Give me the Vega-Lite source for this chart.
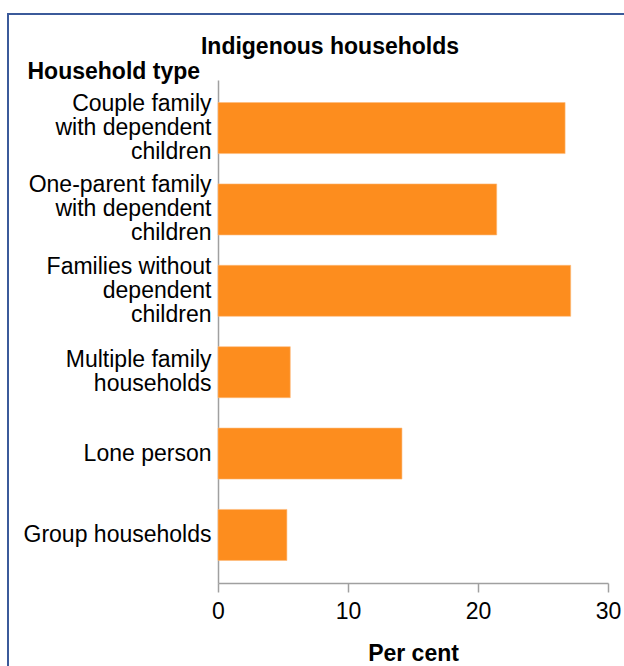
{
  "$schema": "https://vega.github.io/schema/vega-lite/v6.json",
  "autosize": "none",
  "padding": {"left": 8, "top": 14, "right": 0, "bottom": 0},
  "width": 644,
  "height": 680,
  "background": "white",
  "config": {
    "view": {"stroke": "#3B5A9A", "strokeWidth": 2},
    "font": "Liberation Sans"
  },
  "title": {
    "text": "Indigenous households",
    "anchor": "middle",
    "frame": "group",
    "baseline": "alphabetic",
    "offset": 0,
    "dy": 63,
    "font": "Liberation Sans",
    "fontSize": 23,
    "fontWeight": "bold",
    "color": "#000000"
  },
  "data": {
    "values": [
      {"type": "Couple family|with dependent|children", "value": 26.7},
      {"type": "One-parent family|with dependent|children", "value": 21.44},
      {"type": "Families without|dependent|children", "value": 27.13},
      {"type": "Multiple family|households", "value": 5.56},
      {"type": "Lone person", "value": 14.15},
      {"type": "Group households", "value": 5.3}
    ]
  },
  "mark": {"type": "bar", "color": "#FD8D1E", "stroke": "#FDBA7A", "strokeWidth": 0.6},
  "encoding": {
    "y": {
      "field": "type",
      "type": "nominal",
      "sort": null,
      "scale": {"range": [66, 569], "paddingInner": 0.373, "paddingOuter": 0.277},
      "axis": {
        "orient": "left",
        "offset": -210,
        "title": "Household type",
        "titleAngle": 0,
        "titleAlign": "left",
        "titleBaseline": "alphabetic",
        "titleX": -191,
        "titleY": 64,
        "titleFont": "Liberation Sans",
        "titleFontSize": 23,
        "titleFontWeight": "bold",
        "titleColor": "#000000",
        "labelExpr": "split(datum.label, '|')",
        "labelOffset": {
          "condition": [
            {"test": "length(split(datum.value, '|')) == 3", "value": -24},
            {"test": "length(split(datum.value, '|')) == 2", "value": -12}
          ],
          "value": 0
        },
        "labelFont": "Liberation Sans",
        "labelFontSize": 23,
        "labelLineHeight": 24,
        "labelColor": "#000000",
        "labelPadding": 7,
        "labelLimit": 400,
        "ticks": false,
        "tickSize": 0,
        "domainColor": "#A0A0A0",
        "domainWidth": 1.5,
        "grid": false
      }
    },
    "x": {
      "field": "value",
      "type": "quantitative",
      "scale": {"domain": [0, 30], "range": [210, 600], "nice": false},
      "axis": {
        "orient": "bottom",
        "offset": -111,
        "values": [0, 10, 20, 30],
        "title": "Per cent",
        "titleFont": "Liberation Sans",
        "titleFontSize": 23,
        "titleFontWeight": "bold",
        "titleColor": "#000000",
        "titleBaseline": "alphabetic",
        "titleY": 77,
        "labelFont": "Liberation Sans",
        "labelFontSize": 23,
        "labelColor": "#000000",
        "labelPadding": 8,
        "labelFlush": false,
        "labelOverlap": false,
        "tickSize": 9,
        "tickColor": "#A0A0A0",
        "tickWidth": 1.5,
        "domainColor": "#A0A0A0",
        "domainWidth": 1.5,
        "grid": false
      }
    }
  }
}
